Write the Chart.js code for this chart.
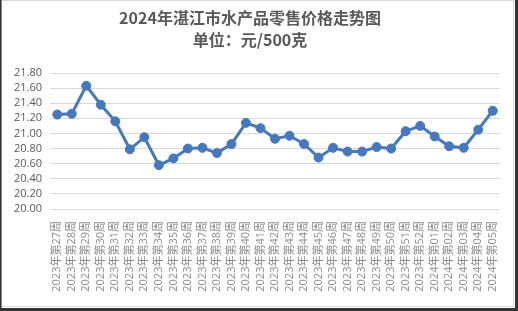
<!DOCTYPE html>
<html>
<head>
    <meta charset="utf-8">
    <title>2024年湛江市水产品零售价格走势图</title>
    <script src="https://cdn.jsdelivr.net/npm/chart.js@4.4.0/dist/chart.umd.min.js"></script>
    <style>
        body { margin: 0; background: #fff; }
        .box { position: relative; width: 518px; height: 311px; }
    </style>
</head>
<body>
    <div class="box">
        <canvas id="price-chart"></canvas>
    </div>

    <script>
        // 周次
        var weeks = [
            '2023年第27周', '2023年第28周', '2023年第29周', '2023年第30周', '2023年第31周',
            '2023年第32周', '2023年第33周', '2023年第34周', '2023年第35周', '2023年第36周',
            '2023年第37周', '2023年第38周', '2023年第39周', '2023年第40周', '2023年第41周',
            '2023年第42周', '2023年第43周', '2023年第44周', '2023年第45周', '2023年第46周',
            '2023年第47周', '2023年第48周', '2023年第49周', '2023年第50周', '2023年第51周',
            '2023年第52周', '2024年第01周', '2024年第02周', '2024年第03周', '2024年第04周',
            '2024年第05周'
        ];

        // 零售价格 (元/500克)
        var prices = [
            21.25, 21.26, 21.63, 21.38, 21.16, 20.79, 20.95, 20.58, 20.67, 20.80,
            20.81, 20.74, 20.86, 21.14, 21.07, 20.93, 20.97, 20.86, 20.68, 20.81,
            20.76, 20.76, 20.82, 20.80, 21.03, 21.10, 20.96, 20.83, 20.81, 21.05,
            21.30
        ];

        var yTicks = [20.00, 20.20, 20.40, 20.60, 20.80, 21.00, 21.20, 21.40, 21.60, 21.80];

        var textFont = '"Open Sans", "Noto Sans CJK SC", sans-serif';
        var lineColor = 'rgb(70, 120, 190)';

        // 外框
        var framePlugin = {
            id: 'frame',
            afterDraw: function (chart) {
                var ctx = chart.ctx;
                ctx.save();
                ctx.strokeStyle = '#d9d9d9';
                ctx.lineWidth = 1;
                ctx.strokeRect(1.5, 0.5, 512, 306);
                ctx.fillStyle = '#333';
                ctx.fillRect(0, 0, 1.5, 311);
                ctx.fillRect(515, 0, 3, 311);
                ctx.fillRect(0, 308, 518, 3);
                ctx.restore();
            }
        };

        new Chart(document.getElementById('price-chart'), {
            type: 'line',
            data: {
                labels: weeks,
                datasets: [{
                    data: prices,
                    borderColor: lineColor,
                    backgroundColor: lineColor,
                    borderWidth: 3,
                    pointRadius: 4.5,
                    pointHoverRadius: 4.5,
                    pointBorderWidth: 1,
                    tension: 0
                }]
            },
            options: {
                responsive: true,
                maintainAspectRatio: false,
                animation: false,
                layout: { padding: { left: 0, right: 18, top: 0, bottom: 0 } },
                plugins: {
                    legend: { display: false },
                    tooltip: { enabled: false },
                    title: {
                        display: true,
                        text: ['2024年湛江市水产品零售价格走势图', '单位：元/500克'],
                        color: '#595959',
                        font: { family: '"Noto Sans CJK SC", sans-serif', size: 16, weight: 'bold', lineHeight: '22px' },
                        padding: { top: 7, bottom: 22 }
                    }
                },
                scales: {
                    x: {
                        offset: true,
                        grid: { display: false },
                        border: { display: false },
                        ticks: {
                            autoSkip: false,
                            maxRotation: 90,
                            minRotation: 90,
                            padding: 4,
                            color: '#8c8c8c',
                            font: { family: textFont, size: 11 }
                        },
                        afterFit: function (scale) { scale.height = 102; }
                    },
                    y: {
                        min: 20,
                        max: 21.8,
                        afterBuildTicks: function (scale) {
                            scale.ticks = yTicks.map(function (v) { return { value: v }; });
                        },
                        grid: { color: '#d9d9d9', lineWidth: 1, drawTicks: false },
                        border: { display: false },
                        ticks: {
                            autoSkip: false,
                            padding: 8,
                            color: '#595959',
                            font: { family: textFont, size: 11 },
                            callback: function (v) { return Number(v).toFixed(2); }
                        },
                        afterFit: function (scale) { scale.width = 50; }
                    }
                }
            },
            plugins: [framePlugin]
        });
    </script>
</body>
</html>
